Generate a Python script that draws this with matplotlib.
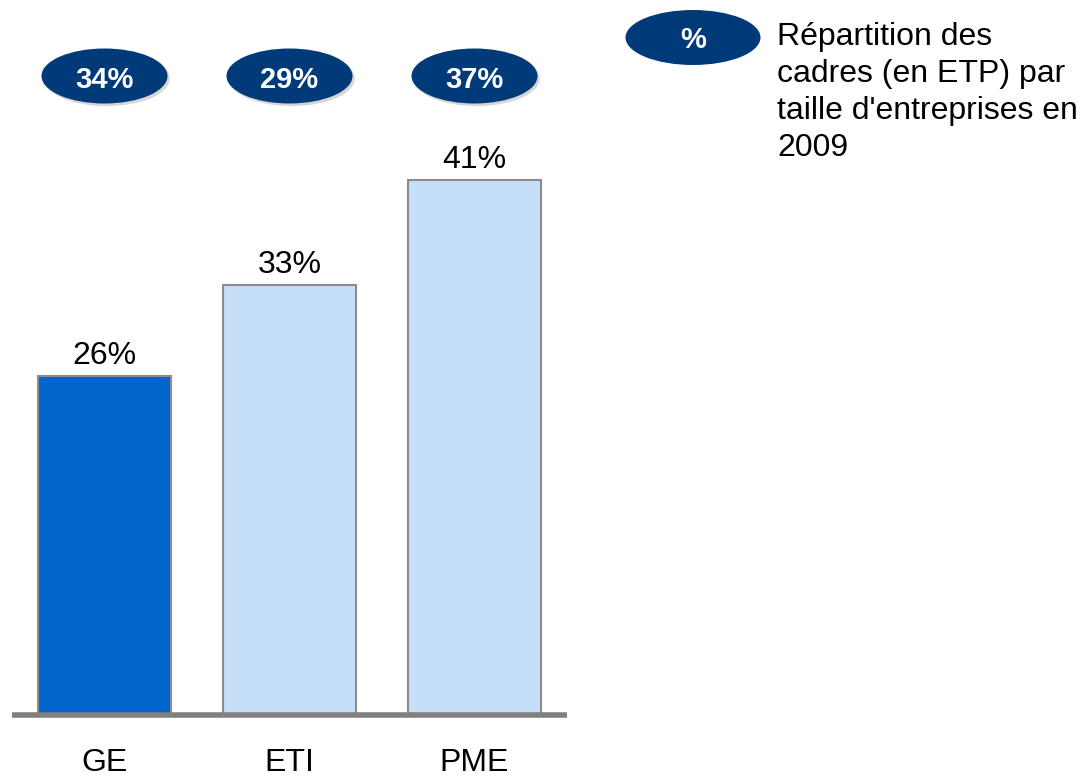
import matplotlib
matplotlib.use("Agg")
import matplotlib.pyplot as plt
from matplotlib.patches import Ellipse

plt.rcParams['font.family'] = ['Liberation Sans', 'DejaVu Sans']

# data
categories = ["GE", "ETI", "PME"]
cadres_pct = [26, 33, 41]          # share of cadres (ETP)
entreprises_pct = [34, 29, 37]     # values shown in the ovals
bar_colors = ["#0066CC", "#C6DFF8", "#C6DFF8"]

W, H = 1083, 781
fig = plt.figure(figsize=(W / 100, H / 100), dpi=100)

# axes spans x 12..567 px, y 0..715 px from top
ax = fig.add_axes([12 / W, (H - 715) / H, (567 - 12) / W, 715 / H])
ax.set_xlim(-0.5, 2.5)
px_per_unit = 13.04
ax.set_ylim(0, 715 / px_per_unit)

x = range(len(categories))
ax.bar(x, cadres_pct, width=0.72, color=bar_colors, edgecolor="#8C8C8C",
       linewidth=1.5, zorder=2)

for i, v in zip(x, cadres_pct):
    ax.text(i, v + 12 / px_per_unit, f"{v}%", ha="center", va="baseline",
            fontsize=23, color="black")

# dark ovals at the top
oval_y = (715 - 76) / px_per_unit
for i, v in zip(x, entreprises_pct):
    ax.add_patch(Ellipse((i + 0.012, oval_y - 0.2), 126 / 185, 55 / px_per_unit,
                         facecolor="#BBBBBB", edgecolor="none", alpha=0.6,
                         zorder=2, clip_on=False))
    ax.add_patch(Ellipse((i, oval_y), 126 / 185, 55 / px_per_unit,
                         facecolor="#003A78", edgecolor="none", zorder=3,
                         clip_on=False))
    ax.text(i, oval_y - 4 / px_per_unit, f"{v}%", ha="center", va="center",
            fontsize=21, fontweight="bold", color="white", zorder=4)

for s in ["top", "left", "right"]:
    ax.spines[s].set_visible(False)
ax.spines["bottom"].set_color("#808080")
ax.spines["bottom"].set_linewidth(4)
ax.spines["bottom"].set_zorder(3)
ax.spines["bottom"].set_capstyle("butt")
ax.set_yticks([])
ax.set_xticks(list(x))
ax.set_xticklabels(categories, fontsize=23)
ax.tick_params(axis="x", length=0, pad=24)

# legend oval and caption
fig.add_artist(Ellipse((693 / W, 1 - 37.5 / H), 135 / W, 55 / H,
                       transform=fig.transFigure, facecolor="#003A78",
                       edgecolor="none"))
fig.text(693 / W, 1 - 40 / H, "%", ha="center", va="center", fontsize=21,
         fontweight="bold", color="white")
fig.text(777 / W, 1 - 22 / H,
         "Répartition des\ncadres (en ETP) par\ntaille d'entreprises en\n2009",
         ha="left", va="top", fontsize=23, linespacing=1.3, color="black")

fig.savefig("out.png", dpi=100)
